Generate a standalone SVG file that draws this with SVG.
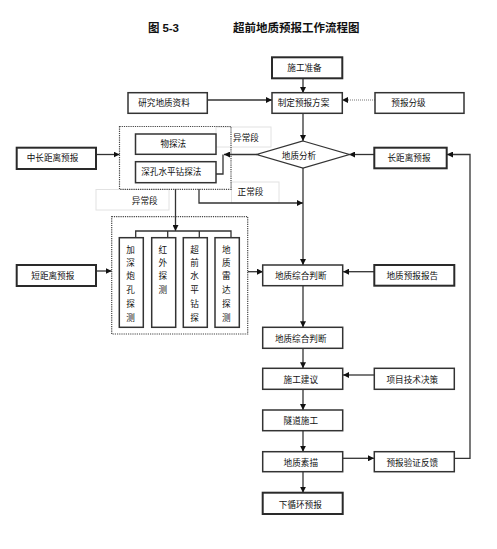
<svg xmlns="http://www.w3.org/2000/svg" width="497" height="549" viewBox="0 0 497 549">
<defs>
<style>
.t{font-family:"Liberation Serif","Noto Sans CJK SC",serif;font-size:8.6px;fill:#111;text-anchor:middle;}
.ti{font-family:"Liberation Serif","Noto Sans CJK SC",serif;font-size:11.5px;fill:#111;}
.b{fill:#fff;stroke:#333;stroke-width:1.5;}
.bk{fill:#fff;stroke:#2a2a2a;stroke-width:2;}
.lb{fill:none;stroke:#e2e2e2;stroke-width:1;}
.dot{fill:none;stroke:#444;stroke-width:1.2;stroke-dasharray:1.2 1;}
.c{fill:none;stroke:#333;stroke-width:1.3;}
.cd{fill:none;stroke:#777;stroke-width:1;stroke-dasharray:1 1;}
</style>
<marker id="ah" markerUnits="userSpaceOnUse" markerWidth="6" markerHeight="6" refX="6" refY="3" orient="auto">
<path d="M0,0 L6,3 L0,6 z" fill="#111"/>
</marker>
</defs>
<rect width="497" height="549" fill="#fff"/>
<g id="title">
<text class="ti" x="148" y="32" font-weight="bold">图 <tspan font-family="Liberation Sans, sans-serif">5-3</tspan></text>
<text class="ti" x="233" y="32" font-weight="bold">超前地质预报工作流程图</text>
</g>
<g id="labels">
<rect class="lb" x="216" y="127" width="55" height="20"/>
<text class="t" x="246" y="141">异常段</text>
<rect class="lb" x="231.5" y="182" width="47.5" height="21"/>
<text class="t" x="250.5" y="195">正常段</text>
<rect class="lb" x="96" y="189.5" width="73" height="20.5"/>
<text class="t" x="144.7" y="203.5">异常段</text>
</g>
<g id="connectors">
<path class="c" d="M303,78 V93" marker-end="url(#ah)"/>
<path class="c" d="M207,100 H272" marker-end="url(#ah)"/>
<path class="cd" d="M375,100 H342" marker-end="url(#ah)"/>
<path class="c" d="M303,113 V141" marker-end="url(#ah)"/>
<path class="c" d="M374,154.5 H349" marker-end="url(#ah)"/>
<path class="c" d="M257,154.5 H224" marker-end="url(#ah)"/>
<path class="c" d="M223,154.5 V174 H216"/>
<path class="c" d="M96,154.5 H119.5" marker-end="url(#ah)"/>
<path class="c" d="M199,189 V203 H303" marker-end="url(#ah)"/>
<path class="c" d="M175.5,189 V231" marker-end="url(#ah)"/>
<path class="c" d="M135.7,237.7 V231 H231 V237.7 M167.7,231 V237.7 M199.3,231 V237.7"/>
<path class="c" d="M96,271 H111.7" marker-end="url(#ah)"/>
<path class="c" d="M247.7,271.7 H263" marker-end="url(#ah)"/>
<path class="c" d="M303,168 V265" marker-end="url(#ah)"/>
<path class="c" d="M374,271.7 H343" marker-end="url(#ah)"/>
<path class="c" d="M303,286 V327.3" marker-end="url(#ah)"/>
<path class="c" d="M303,348.3 V368.3" marker-end="url(#ah)"/>
<path class="c" d="M374,375 H343" marker-end="url(#ah)"/>
<path class="c" d="M303,389.3 V410" marker-end="url(#ah)"/>
<path class="c" d="M303,430.7 V451.7" marker-end="url(#ah)"/>
<path class="c" d="M343,458.3 H374" marker-end="url(#ah)"/>
<path class="c" d="M303,471.7 V492.7" marker-end="url(#ah)"/>
<path class="c" d="M454.3,458.3 H470 V154.5 H447" marker-end="url(#ah)"/>
</g>
<g id="n-prep"><rect class="bk" x="272" y="57.3" width="70.3" height="21"/><text class="t" x="304.5" y="70.5">施工准备</text></g>
<g id="n-research"><rect class="b" x="128" y="92.7" width="79.3" height="20.6"/><text class="t" x="164" y="106">研究地质资料</text></g>
<g id="n-plan"><rect class="b" x="272" y="92.7" width="70.3" height="20.6"/><text class="t" x="303.5" y="106">制定预报方案</text></g>
<g id="n-grade"><rect class="b" x="375" y="92.7" width="89" height="20.6" stroke-width="1.2"/><text class="t" x="408.5" y="106">预报分级</text></g>
<g id="n-midlong"><rect class="bk" x="16.7" y="147.7" width="79.3" height="21.3"/><text class="t" x="52.5" y="161">中长距离预报</text></g>
<g id="n-group1">
<rect class="dot" x="119.5" y="126.5" width="111.5" height="62.8"/>
<g id="n-geophys"><rect class="b" x="135.5" y="134" width="80.5" height="20.3"/><text class="t" x="173.3" y="147">物探法</text></g>
<g id="n-deephole"><rect class="b" x="135.5" y="161.7" width="80.5" height="21"/><text class="t" x="171.3" y="175.3">深孔水平钻探法</text></g>
</g>
<g id="n-analysis"><path d="M303,141 L349.3,154.5 L303,168 L256.7,154.5 Z" fill="#fff" stroke="#333" stroke-width="1.3"/><text class="t" x="299" y="159">地质分析</text></g>
<g id="n-long"><rect class="bk" x="374.3" y="147.7" width="72.4" height="20.6"/><text class="t" x="409" y="161.3">长距离预报</text></g>
<g id="n-group2">
<rect class="dot" x="111.7" y="216.7" width="136" height="117.3"/>
<g id="n-v1"><rect class="b" x="119.3" y="237.7" width="24" height="89.6"/>
<text class="t"><tspan x="130.5" y="252.5">加</tspan><tspan x="130.5" y="265.5">深</tspan><tspan x="130.5" y="279">炮</tspan><tspan x="130.5" y="292.5">孔</tspan><tspan x="130.5" y="306.5">探</tspan><tspan x="130.5" y="320.5">测</tspan></text></g>
<g id="n-v2"><rect class="b" x="151.7" y="237.7" width="24" height="89.6"/>
<text class="t"><tspan x="162.7" y="252.5">红</tspan><tspan x="162.7" y="265.5">外</tspan><tspan x="162.7" y="279">探</tspan><tspan x="162.7" y="292.5">测</tspan></text></g>
<g id="n-v3"><rect class="b" x="183.3" y="237.7" width="24" height="89.6"/>
<text class="t"><tspan x="194.6" y="252.5">超</tspan><tspan x="194.6" y="265.5">前</tspan><tspan x="194.6" y="279">水</tspan><tspan x="194.6" y="292.5">平</tspan><tspan x="194.6" y="306.5">钻</tspan><tspan x="194.6" y="320.5">探</tspan></text></g>
<g id="n-v4"><rect class="b" x="215" y="237.7" width="24.3" height="89.6"/>
<text class="t"><tspan x="226.4" y="252.5">地</tspan><tspan x="226.4" y="265.5">质</tspan><tspan x="226.4" y="279">雷</tspan><tspan x="226.4" y="292.5">达</tspan><tspan x="226.4" y="306.5">探</tspan><tspan x="226.4" y="320.5">测</tspan></text></g>
</g>
<g id="n-short"><rect class="bk" x="16.7" y="265" width="79.3" height="21"/><text class="t" x="52.8" y="279">短距离预报</text></g>
<g id="n-judge1"><rect class="b" x="262.7" y="265" width="80" height="20.7"/><text class="t" x="300.7" y="279">地质综合判断</text></g>
<g id="n-report"><rect class="bk" x="374.3" y="265" width="80" height="20.7"/><text class="t" x="412.3" y="279">地质预报报告</text></g>
<g id="n-judge2"><rect class="b" x="262.7" y="327.3" width="80" height="21"/><text class="t" x="300.7" y="342">地质综合判断</text></g>
<g id="n-suggest"><rect class="b" x="262.7" y="368.3" width="80" height="21"/><text class="t" x="300.8" y="383">施工建议</text></g>
<g id="n-decision"><rect class="b" x="374.3" y="368.3" width="80" height="21"/><text class="t" x="412.3" y="383">项目技术决策</text></g>
<g id="n-tunnel"><rect class="b" x="262.7" y="410" width="80" height="20.7"/><text class="t" x="300.8" y="424">隧道施工</text></g>
<g id="n-sketch"><rect class="b" x="262.7" y="451.7" width="80" height="20"/><text class="t" x="300.8" y="466.3">地质素描</text></g>
<g id="n-feedback"><rect class="b" x="374.3" y="451.7" width="80" height="20"/><text class="t" x="412.3" y="466.3">预报验证反馈</text></g>
<g id="n-next"><rect class="bk" x="262.7" y="492.7" width="80" height="21.3"/><text class="t" x="300.3" y="508">下循环预报</text></g>
</svg>
